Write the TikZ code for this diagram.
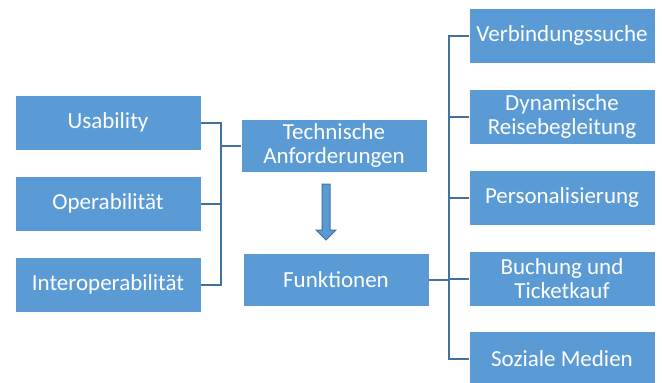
\documentclass[tikz,border=0pt]{standalone}
\usepackage{fontspec}
\setmainfont{Carlito}
\usetikzlibrary{calc}
\definecolor{boxblue}{HTML}{5B9BD5}
\definecolor{linkblue}{HTML}{41719C}
\begin{document}
\begin{tikzpicture}[x=1pt,y=-1pt,
  box/.style={fill=boxblue, draw=white, line width=0.8pt, text=white, align=center,
    minimum width=186pt, font=\fontsize{23}{24}\selectfont, inner sep=0pt},
  link/.style={draw=linkblue, line width=2pt}]
\useasboundingbox (0,0) rectangle (662,383);
% left column
\node[box, minimum height=55pt] (usa) at (108,122.5) {Usability};
\node[box, minimum height=55pt] (ope) at (108,203.5) {Operabilität};
\node[box, minimum height=55pt] (int) at (108,284.5) {Interoperabilität};
% centre
\node[box, minimum height=53pt] (tech) at (334,145.5) {Technische\\Anforderungen};
\node[box, minimum height=53pt] (funk) at (336,279.5) {Funktionen};
% right column
\node[box, minimum height=55pt] (verb) at (562,35.5) {Verbindungssuche};
\node[box, minimum height=55pt] (dyn) at (562,116.5) {Dynamische\\Reisebegleitung};
\node[box, minimum height=55pt] (pers) at (562,197.5) {Personalisierung};
\node[box, minimum height=55pt] (buch) at (562,278.5) {Buchung und\\Ticketkauf};
\node[box, minimum height=55pt] (soz) at (562,358.5) {Soziale Medien};
% junctions
\coordinate (jl) at (221,203.5);
\coordinate (jr) at (449,197.5);
\draw[link] (usa.east) -| (jl) |- (int.east);
\draw[link] (ope.east) -- (jl);
\draw[link] (tech.west) -- (jl |- tech.west);
\draw[link] (verb.west) -| (jr) |- (soz.west);
\draw[link] (dyn.west) -- (jr |- dyn.west);
\draw[link] (pers.west) -- (jr);
\draw[link] (buch.west) -- (jr |- buch.west);
\draw[link] (funk.east) -- (jr |- funk.east);
% block arrow
\coordinate (at) at (326,184);
\fill[boxblue, draw=linkblue, line width=1pt]
  ($(at)+(-4,0)$) -- ($(at)+(4,0)$) -- ($(at)+(4,46)$) -- ($(at)+(10,46)$)
  -- ($(at)+(0,56)$) -- ($(at)+(-10,46)$) -- ($(at)+(-4,46)$) -- cycle;
\end{tikzpicture}
\end{document}
